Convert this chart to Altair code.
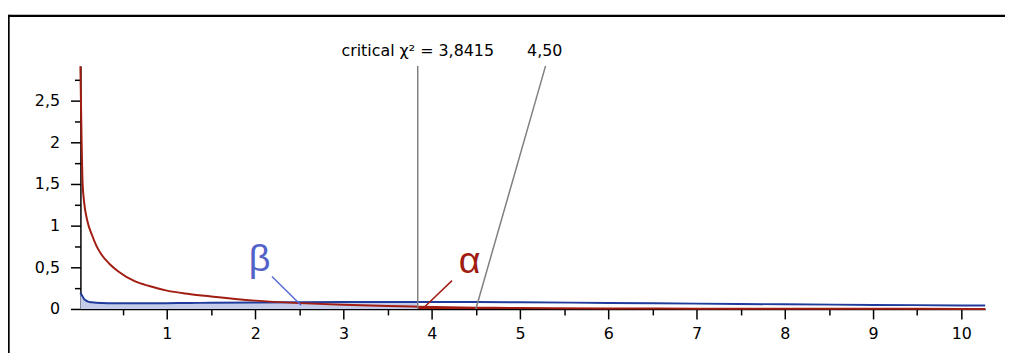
import altair as alt
import pandas as pd

# ---- data ----
X_VALUES = [0.02, 0.045, 0.06, 0.1, 0.15, 0.2, 0.26, 0.35, 0.45, 0.64, 0.8, 1.0, 1.25,
            1.5, 2.0, 2.5, 3.0, 3.5, 3.8415, 4.5, 5.0, 6.0, 7.0, 8.0, 9.0, 10.0, 10.27]
H0_DENSITY = [2.91, 1.50, 1.30, 1.05, 0.89, 0.76, 0.65, 0.54, 0.45, 0.33, 0.275, 0.22, 0.18,
              0.15, 0.10, 0.07, 0.05, 0.035, 0.028, 0.016, 0.012, 0.007, 0.004, 0.003, 0.002, 0.001, 0.001]
H1_DENSITY = [0.196, 0.15, 0.12, 0.092, 0.08, 0.074, 0.071, 0.069, 0.068, 0.068, 0.069, 0.070, 0.072,
              0.074, 0.078, 0.081, 0.083, 0.084, 0.084, 0.083, 0.081, 0.072, 0.064, 0.056, 0.049, 0.043, 0.041]

CRITICAL = 3.8415
OBSERVED = 4.50
X_TICKS = [0.5, 1, 1.5, 2, 2.5, 3, 3.5, 4, 4.5, 5, 5.5, 6, 6.5, 7, 7.5, 8, 8.5, 9, 9.5, 10]
Y_TICKS = [0, 0.25, 0.5, 0.75, 1, 1.25, 1.5, 1.75, 2, 2.25, 2.5, 2.75]

TOP_TEXTS = ["critical χ² = 3,8415", "4,50"]
TOP_TEXT_X = [3.8415, 5.28]
TOP_TEXT_Y = [3.034, 3.034]

GREEK = ["β", "α"]
GREEK_X = [2.05, 4.43]
GREEK_Y = [0.45, 0.435]
GREEK_COLORS = ["#5262c9", "#a11d12"]
GREEK_SIZES = [38, 38]

# leader / marker lines (data units)
LINE_NAMES = ["critical", "observed", "beta", "alpha"]
LINE_X = [3.8415, 4.50, 2.19, 4.23]
LINE_Y = [0.0, 0.0, 0.39, 0.34]
LINE_X2 = [3.8415, 5.29, 2.52, 3.90]
LINE_Y2 = [2.915, 2.915, 0.045, 0.006]
LINE_COLORS = ["#808080", "#808080", "#5a6bd4", "#a11d12"]

df = pd.DataFrame({"x": X_VALUES, "h0": H0_DENSITY, "h1": H1_DENSITY})
top_df = pd.DataFrame({"t": TOP_TEXTS, "x": TOP_TEXT_X, "y": TOP_TEXT_Y})
lines_df = pd.DataFrame({"name": LINE_NAMES, "x": LINE_X, "y": LINE_Y, "x2": LINE_X2,
                         "y2": LINE_Y2, "c": LINE_COLORS})

FONT = "DejaVu Sans"
GREEK_FONT = "Liberation Sans"

xscale = alt.Scale(domain=[0.02, 10.27], nice=False, zero=False)
yscale = alt.Scale(domain=[0, 2.915], nice=False, zero=False)

x_axis = alt.Axis(
    values=X_TICKS,
    labelExpr="datum.value % 1 === 0 ? format(datum.value, 'd') : ''",
    tickSize={"condition": {"test": "datum.value % 1 === 0", "value": 10}, "value": 6},
    grid=False, domainColor="black", domainWidth=1.5, tickColor="black", tickWidth=1.5,
    labelFont=FONT, labelFontSize=16, labelColor="black", labelPadding=7,
    labelOverlap=False, labelFlush=False, title=None,
)
y_axis = alt.Axis(
    values=Y_TICKS,
    labelExpr="datum.value % 0.5 === 0 ? replace(format(datum.value, ''), '.', ',') : ''",
    tickSize={"condition": {"test": "datum.value % 0.5 === 0", "value": 10}, "value": 6},
    grid=False, domainColor="black", domainWidth=1.5, tickColor="black", tickWidth=1.5,
    labelFont=FONT, labelFontSize=16, labelColor="black", labelPadding=11,
    labelOverlap=False, labelFlush=False, title=None,
)

X = lambda f="x": alt.X(f"{f}:Q", scale=xscale, axis=x_axis, title=None)
Y = lambda f: alt.Y(f"{f}:Q", scale=yscale, axis=y_axis, title=None)

base = alt.Chart(df)

beta_fill = base.transform_filter(alt.datum.x <= CRITICAL + 1e-9).mark_area(
    color="#c5cce9", opacity=1, interpolate="monotone").encode(x=X(), y=Y("h1"))
alpha_fill = base.transform_filter(alt.datum.x >= CRITICAL - 1e-9).mark_area(
    color="#a11d12", opacity=1, interpolate="monotone").encode(x=X(), y=Y("h0"))
blue_line = base.mark_line(color="#1f3c9c", strokeWidth=2, interpolate="monotone").encode(
    x=X(), y=Y("h1"))
red_line = base.mark_line(color="#a11d12", strokeWidth=2, interpolate="monotone").encode(
    x=X(), y=Y("h0"))

rules = alt.Chart(lines_df).mark_rule(strokeWidth=1.5).encode(
    x=X(), y=Y("y"), x2="x2:Q", y2="y2:Q",
    color=alt.Color("c:N", scale=None),
)

top_text = alt.Chart(top_df).mark_text(
    font=FONT, fontSize=16, color="black", align="center", baseline="alphabetic"
).encode(x=X(), y=Y("y"), text="t:N")

greek_layers = []
for g, gx, gy, gc, gs in zip(GREEK, GREEK_X, GREEK_Y, GREEK_COLORS, GREEK_SIZES):
    gdf = pd.DataFrame({"t": [g], "x": [gx], "y": [gy]})
    greek_layers.append(
        alt.Chart(gdf).mark_text(font=GREEK_FONT, fontSize=gs, color=gc, align="center",
                                 baseline="alphabetic").encode(x=X(), y=Y("y"), text="t:N")
    )

frame_df = pd.DataFrame({"k": [0]})
frame_top = alt.Chart(frame_df).mark_rule(color="black", strokeWidth=2.4).encode(
    x=alt.value(-72.5), x2=alt.value(1000), y=alt.value(-50.5), y2=alt.value(-50.5))
frame_left = alt.Chart(frame_df).mark_rule(color="black", strokeWidth=2.4).encode(
    x=alt.value(-72.5), x2=alt.value(-72.5), y=alt.value(-51.7), y2=alt.value(320))

chart = alt.layer(
    beta_fill, alpha_fill, blue_line, red_line, rules, top_text, *greek_layers,
    frame_top, frame_left,
).properties(
    width=912, height=245,
    padding={"left": 73, "top": 57, "right": 20, "bottom": 43},
    autosize=alt.AutoSizeParams(type="none"),
    background="white",
).configure_view(stroke=None)

chart.save("out.html", embed_options={"renderer": "svg", "actions": False})
